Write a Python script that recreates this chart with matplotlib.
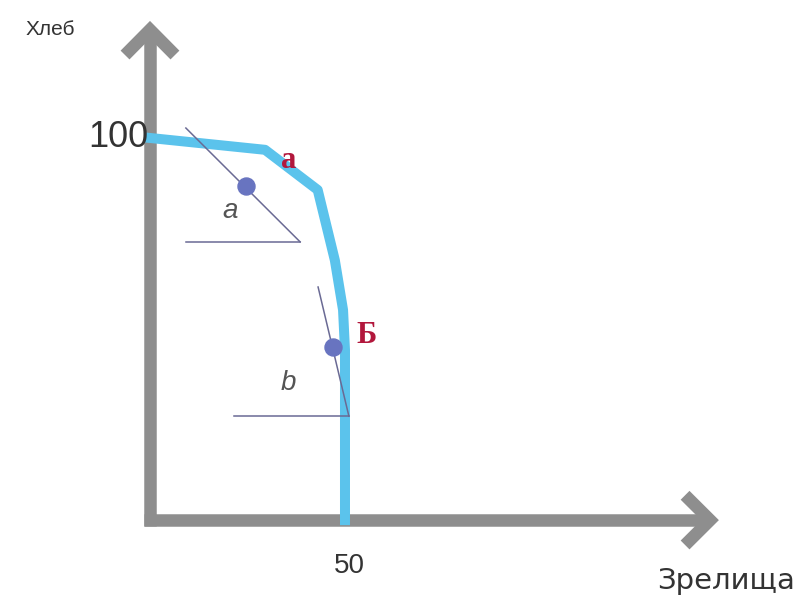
import matplotlib.pyplot as plt

# production possibilities curve (Зрелища, Хлеб)
curve_x = [0, 29.5, 43, 47.4, 49.5, 50, 50]
curve_y = [100, 96.9, 86.4, 68, 55, 44.5, 0]

# point A with its tangent and the horizontal leg
point_a = (24.6, 87.4)
tangent_a_x = [9.2, 38.5]
tangent_a_y = [102.6, 72.8]
leg_a_x = [9.2, 38.5]
leg_a_y = [72.8, 72.8]

# point B with its tangent and the horizontal leg
point_b = (46.9, 45.3)
tangent_b_x = [43.1, 51]
tangent_b_y = [61, 27.2]
leg_b_x = [21.5, 51]
leg_b_y = [27.2, 27.2]

x_tick, y_tick = 50, 100
x_label, y_label = 'Зрелища', 'Хлеб'

fig = plt.figure(figsize=(7.97, 6), dpi=100)
ax = fig.add_axes([0, 0, 1, 1])
ax.set_xlim(-38.46, 165.9)
ax.set_ylim(-20.9, 136.1)
ax.axis('off')

grey = '#8e8e8e'
# axes with chevron arrowheads
ax.plot([0, 0], [-1.5, 127.5], color=grey, lw=9, solid_capstyle='butt')
ax.plot([-6.4, 0, 6.4], [121.7, 128.3, 121.7], color=grey, lw=9,
        solid_capstyle='butt', solid_joinstyle='miter')
ax.plot([-1.5, 142.8], [0, 0], color=grey, lw=9, solid_capstyle='butt')
ax.plot([137.2, 143.6, 137.2], [6.5, 0, -6.5], color=grey, lw=9,
        solid_capstyle='butt', solid_joinstyle='miter')

ax.plot(curve_x, curve_y, color='#5bc3ec', lw=7.2, solid_joinstyle='round',
        zorder=2)

line_c = '#6a6a94'
ax.plot(tangent_a_x, tangent_a_y, color=line_c, lw=1.1, zorder=3)
ax.plot(leg_a_x, leg_a_y, color=line_c, lw=1.1, zorder=3)
ax.plot(tangent_b_x, tangent_b_y, color=line_c, lw=1.1, zorder=3)
ax.plot(leg_b_x, leg_b_y, color=line_c, lw=1.1, zorder=3)

dot_c = '#6874c0'
ax.scatter([point_a[0], point_b[0]], [point_a[1], point_b[1]], s=150,
           color=dot_c, zorder=4)

red = '#b2173c'
ax.text(35.6, 94.2, 'а', color=red, fontsize=22, fontweight='bold',
        family='Liberation Serif', ha='center', va='center')
ax.text(55.5, 48.4, 'Б', color=red, fontsize=22, fontweight='bold',
        family='Liberation Serif', ha='center', va='center')
ax.text(20.5, 81, 'a', color='#555555', fontsize=20, style='italic',
        family='Liberation Sans', ha='center', va='center')
ax.text(35.4, 36, 'b', color='#555555', fontsize=20, style='italic',
        family='Liberation Sans', ha='center', va='center')

ax.text(-0.5, y_tick, str(y_tick), color='#333333', fontsize=26,
        family='Liberation Sans', ha='right', va='center')
ax.text(x_tick + 1, -8.5, str(x_tick), color='#333333', fontsize=20,
        family='Liberation Sans', ha='center', va='top')
ax.text(165.5, -16, x_label, color='#333333', fontsize=21,
        family='DejaVu Sans', ha='right', va='center')
ax.text(-32, 128.5, y_label, color='#333333', fontsize=15,
        family='Liberation Sans', ha='left', va='center')

fig.savefig('out.png', dpi=100)
